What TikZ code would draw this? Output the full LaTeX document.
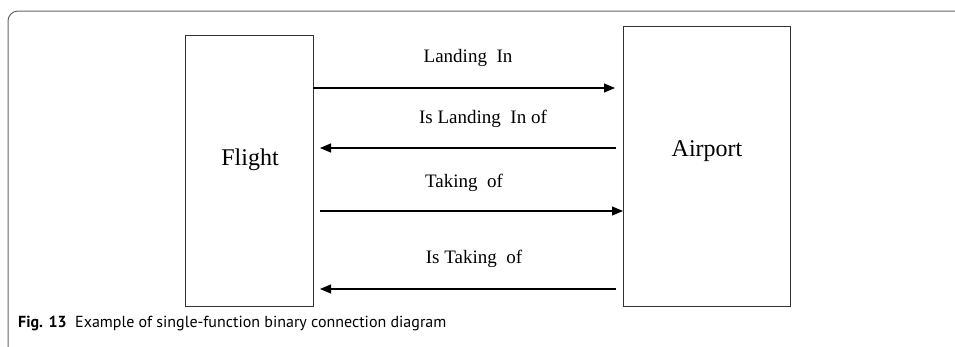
\documentclass[tikz,border=0pt]{standalone}
\usepackage{fontspec}
\setmainfont{Liberation Serif}
\newfontfamily\capfont{PT Sans}
\usetikzlibrary{arrows.meta}
\begin{document}
\begin{tikzpicture}[x=1pt,y=-1pt,
  entity/.style={draw=black!80,line width=0.9pt},
  rel/.style={draw=black,line width=1.1pt,-{Triangle[length=11pt,width=9pt]}},
  lbl/.style={font=\fontsize{19}{22}\selectfont,anchor=base,inner sep=0pt},
  big/.style={font=\fontsize{24}{28}\selectfont,anchor=base,inner sep=0pt}]
\useasboundingbox (0,0) rectangle (955,346);
% frame
\draw[black!60,line width=1pt,rounded corners=10pt] (8,356) -- (8,11) -- (965,11);
% boxes
\draw[entity] (185,35) rectangle (313,306);
\draw[entity] (623,26) rectangle (790,306);
\coordinate (f1) at (313,88);
\coordinate (a1) at (615,88);
\coordinate (a2) at (616,148);
\coordinate (f2) at (320,148);
\coordinate (f3) at (320,211);
\coordinate (a3) at (623,211);
\coordinate (a4) at (616,289);
\coordinate (f4) at (320,289);
\draw[rel] (f1) -- (a1);
\draw[rel] (a2) -- (f2);
\draw[rel] (f3) -- (a3);
\draw[rel] (a4) -- (f4);
\node[big] (flight) at (250,165) {Flight};
\node[big] (airport) at (707,156) {Airport};
\node[lbl] (l1) at (468,62) {Landing\ \ In};
\node[lbl] (l2) at (483,123) {Is Landing\ \ In of};
\node[lbl] (l3) at (464,187) {Taking\ \ of};
\node[lbl] (l4) at (474,263) {Is Taking\ \ of};
\node[anchor=base west,inner sep=0pt,font=\capfont\fontsize{16}{19}\selectfont] (cap) at (18,327) {\textbf{Fig. 13}\ \ Example of single-function binary connection diagram};
\end{tikzpicture}
\end{document}
